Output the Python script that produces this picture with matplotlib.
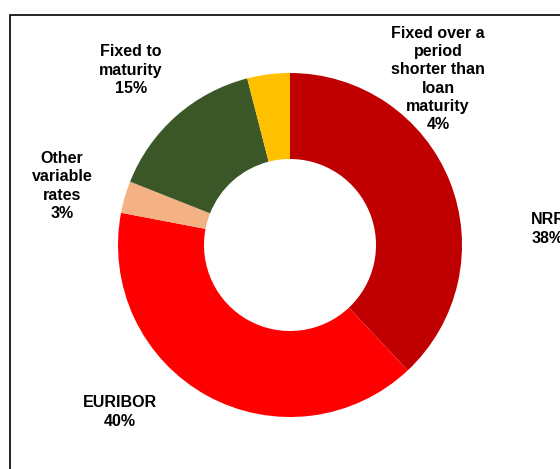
import matplotlib.pyplot as plt
from matplotlib.patches import Rectangle

# %%
labels = [
    "NRR\n38%",
    "EURIBOR\n40%",
    "Other\nvariable\nrates\n3%",
    "Fixed to\nmaturity\n15%",
    "Fixed over a\nperiod\nshorter than\nloan\nmaturity\n4%",
]
shares = [38, 40, 3, 15, 4]
colors = ["#C00000", "#FF0000", "#F4B183", "#3B5727", "#FFC000"]
# label centres in figure pixels (x, y from top)
label_pos = [(548, 229), (120, 412), (62, 186), (131, 70), (438, 79)]

W, H = 560, 469
plt.rcParams["font.family"] = ["Liberation Sans", "DejaVu Sans"]

fig = plt.figure(figsize=(W / 100, H / 100), dpi=100)
ax = fig.add_axes([0, 0, 1, 1])

# frame around the plot area (runs off right/bottom)
ax.add_patch(
    Rectangle((9.5, -10), W + 20, H - 14.5 + 10, fill=False, edgecolor="black", linewidth=1.2)
)

ax.pie(
    shares,
    colors=colors,
    center=(290, H - 245),
    radius=172,
    startangle=90,
    counterclock=False,
    wedgeprops=dict(width=86, linewidth=0),
    frame=True,
)
ax.set_xlim(0, W)
ax.set_ylim(0, H)
ax.set_aspect("equal")
ax.axis("off")

for s, (x, y) in zip(labels, label_pos):
    ax.text(
        x,
        H - y,
        s,
        ha="center",
        va="center",
        fontsize=11.5,
        fontweight="bold",
        linespacing=1.27,
    )

plt.savefig("out.png", dpi=100)
